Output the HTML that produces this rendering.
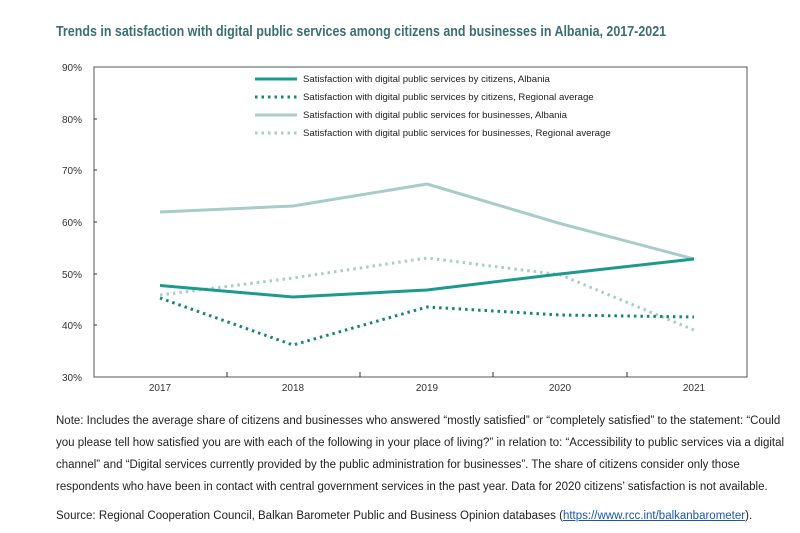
<!DOCTYPE html>
<html><head><style>
body{margin:0;background:#fff;width:800px;height:533px;overflow:hidden;font-family:"Liberation Sans",sans-serif;}
.t{position:absolute;left:56px;top:24px;font-size:14.5px;font-weight:bold;color:#3b6f72;transform:scaleX(0.86);transform-origin:left;white-space:nowrap}
.n{position:absolute;left:56px;top:410px;width:735px;font-size:11.5px;line-height:22px;color:#222}
.s{position:absolute;left:56px;top:510px;font-size:11.5px;color:#222;white-space:nowrap}
</style></head><body>
<div class="t">Trends in satisfaction with digital public services among citizens and businesses in Albania, 2017-2021</div>
<svg width="800" height="533" style="position:absolute;left:0;top:0" font-family="Liberation Sans, sans-serif">
<rect x="94" y="67" width="653" height="310" fill="none" stroke="#555" stroke-width="1"/>
<g font-size="10" fill="#333" text-anchor="end">
<text x="82" y="71">90%</text><text x="82" y="123">80%</text><text x="82" y="174">70%</text>
<text x="82" y="226">60%</text><text x="82" y="278">50%</text><text x="82" y="329">40%</text><text x="82" y="381">30%</text>
</g>
<g stroke="#333"><line x1="94" y1="119" x2="97" y2="119"/><line x1="94" y1="170" x2="97" y2="170"/><line x1="94" y1="222" x2="97" y2="222"/><line x1="94" y1="274" x2="97" y2="274"/><line x1="94" y1="325" x2="97" y2="325"/>
<line x1="227" y1="377" x2="227" y2="372"/><line x1="360" y1="377" x2="360" y2="372"/><line x1="493" y1="377" x2="493" y2="372"/><line x1="627" y1="377" x2="627" y2="372"/></g>
<g font-size="10" fill="#333" text-anchor="middle">
<text x="160" y="391">2017</text><text x="293" y="391">2018</text><text x="427" y="391">2019</text><text x="560" y="391">2020</text><text x="694" y="391">2021</text></g>
<g fill="none" stroke-linejoin="round">
<polyline points="160,212 293,206 427,184 560,223.5 694,259" stroke="#a8cdc8" stroke-width="3"/>
<polyline points="160,295 293,278 427,258 560,274.7 694,330" stroke="#a8cdc8" stroke-width="3" stroke-dasharray="2.5 4"/>
<polyline points="160,285.5 293,297 427,290 560,274 694,259" stroke="#1e9a8c" stroke-width="3"/>
<polyline points="160,298 293,345 427,307 560,315 694,317" stroke="#16876f" stroke-width="3" stroke-dasharray="2.5 4"/>
<line x1="255" y1="79" x2="297" y2="79" stroke="#1e9a8c" stroke-width="3"/>
<line x1="255" y1="97" x2="297" y2="97" stroke="#16876f" stroke-width="3" stroke-dasharray="2.5 4"/>
<line x1="255" y1="115" x2="297" y2="115" stroke="#a8cdc8" stroke-width="3"/>
<line x1="255" y1="133" x2="297" y2="133" stroke="#a8cdc8" stroke-width="3" stroke-dasharray="2.5 4"/>
</g>
<g font-size="9.6" fill="#222">
<text x="303" y="82">Satisfaction with digital public services by citizens, Albania</text>
<text x="303" y="100">Satisfaction with digital public services by citizens, Regional average</text>
<text x="303" y="118">Satisfaction with digital public services for businesses, Albania</text>
<text x="303" y="136">Satisfaction with digital public services for businesses, Regional average</text>
</g>
</svg>
<div class="n">Note: Includes the average share of citizens and businesses who answered “mostly satisfied” or “completely satisfied” to the statement: “Could you please tell how satisfied you are with each of the following in your place of living?” in relation to: “Accessibility to public services via a digital channel” and “Digital services currently provided by the public administration for businesses”. The share of citizens consider only those respondents who have been in contact with central government services in the past year. Data for 2020 citizens’ satisfaction is not available.</div>
<div class="s">Source: Regional Cooperation Council, Balkan Barometer Public and Business Opinion databases (<span style="color:#1a56b0;text-decoration:underline">https://www.rcc.int/balkanbarometer</span>).</div>
</body></html>
